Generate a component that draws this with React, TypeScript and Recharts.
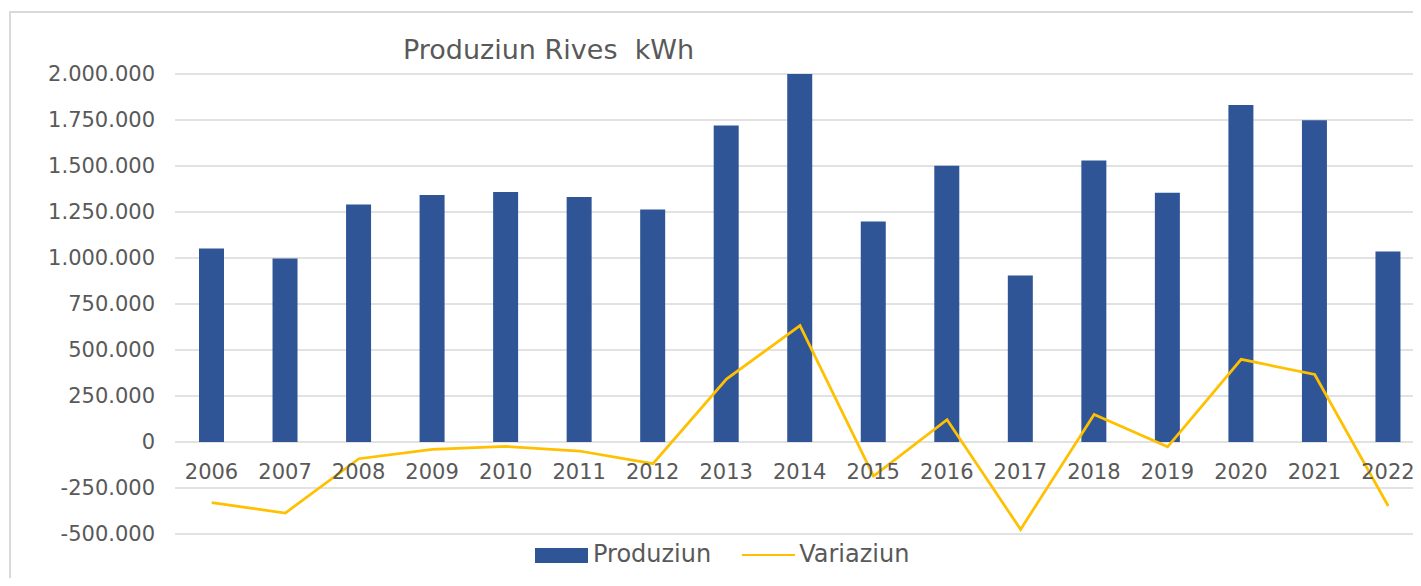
import React from 'react';
import {
  ComposedChart,
  Bar,
  Line,
  XAxis,
  YAxis,
  CartesianGrid,
  Legend,
  LabelList,
} from 'recharts';

const years = ['2006', '2007', '2008', '2009', '2010', '2011', '2012', '2013', '2014', '2015', '2016', '2017', '2018', '2019', '2020', '2021', '2022'];
const produziun = [1052000, 997000, 1291000, 1343000, 1359000, 1332000, 1263000, 1720000, 2013000, 1198000, 1502000, 905000, 1530000, 1354000, 1832000, 1749000, 1035000];
const variaziun = [-330000, -386000, -91000, -40000, -24000, -49000, -118000, 342000, 633000, -185000, 121000, -475000, 150000, -26000, 449000, 367000, -348000];
const yTicks = [-500000, -250000, 0, 250000, 500000, 750000, 1000000, 1250000, 1500000, 1750000, 2000000];

const data = years.map((year, i) => ({ year, produziun: produziun[i], variaziun: variaziun[i] }));

const FONT = '"DejaVu Sans", Verdana, sans-serif';
const TEXT = '#595959';
const BAR_COLOR = '#2F5597';
const LINE_COLOR = '#FFC000';
const GRID = '#d9d9d9';

const fmt = (v: number) => {
  const neg = v < 0;
  const s = Math.abs(v).toString().replace(/\B(?=(\d{3})+(?!\d))/g, '.');
  return (neg ? '-' : '') + s;
};

const renderLegend = () => (
  <div
    style={{
      display: 'flex',
      alignItems: 'center',
      fontFamily: FONT,
      fontSize: 24,
      color: TEXT,
      lineHeight: '30px',
      height: 30,
      whiteSpace: 'nowrap',
    }}
  >
    <span style={{ display: 'inline-block', width: 53, height: 15, background: BAR_COLOR, marginRight: 5, marginTop: 2 }} />
    <span>Produziun</span>
    <span style={{ display: 'inline-block', width: 53, height: 2.75, background: LINE_COLOR, marginLeft: 31, marginRight: 4, marginTop: 2 }} />
    <span>Variaziun</span>
  </div>
);

export default function App() {
  return (
    <div style={{ position: 'relative', width: 1421, height: 586, margin: -8, overflow: 'hidden', background: '#fff' }}>
      <div
        style={{
          position: 'absolute',
          left: 9,
          top: 11,
          width: 1600,
          height: 800,
          border: `2px solid ${GRID}`,
          boxSizing: 'border-box',
        }}
      />
      <div
        style={{
          position: 'absolute',
          left: 403,
          top: 34,
          fontFamily: FONT,
          fontSize: 27,
          lineHeight: '32px',
          color: TEXT,
          whiteSpace: 'pre',
        }}
      >
        {'Produziun Rives  kWh'}
      </div>
      <div style={{ position: 'absolute', left: 0, top: 0, width: 1421, height: 586 }}>
        <ComposedChart width={1421} height={586} data={data} margin={{ top: 74, right: -4, bottom: 52, left: 0 }}>
          <CartesianGrid vertical={false} stroke={GRID} strokeWidth={1.4} />
          <XAxis dataKey="year" hide />
          <YAxis
            domain={[-500000, 2000000]}
            ticks={yTicks}
            allowDataOverflow
            tickFormatter={fmt}
            axisLine={false}
            tickLine={false}
            tickSize={0}
            tickMargin={20}
            width={175}
            tick={{ fill: TEXT, fontSize: 21, fontFamily: FONT }}
          />
          <Bar dataKey="produziun" name="Produziun" fill={BAR_COLOR} barSize={25} isAnimationActive={false}>
            <LabelList dataKey="year" position="bottom" offset={22} fill={TEXT} fontSize={21} fontFamily={FONT} />
          </Bar>
          <Line
            dataKey="variaziun"
            name="Variaziun"
            type="linear"
            stroke={LINE_COLOR}
            strokeWidth={2.75}
            dot={false}
            activeDot={false}
            isAnimationActive={false}
          />
          <Legend
            layout="horizontal"
            verticalAlign="middle"
            align="center"
            content={renderLegend}
            wrapperStyle={{ left: 535, top: 539, width: 400, height: 30 }}
          />
        </ComposedChart>
      </div>
    </div>
  );
}
